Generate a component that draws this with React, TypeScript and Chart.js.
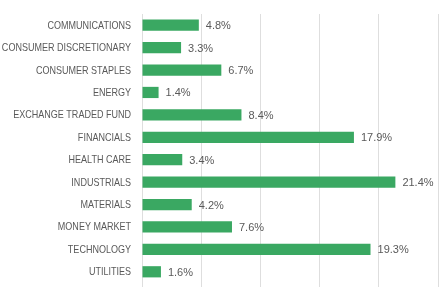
import React, { useEffect, useRef } from "react";
import { Chart, registerables } from "chart.js";

Chart.register(...registerables);

const sectors = [
  "COMMUNICATIONS",
  "CONSUMER DISCRETIONARY",
  "CONSUMER STAPLES",
  "ENERGY",
  "EXCHANGE TRADED FUND",
  "FINANCIALS",
  "HEALTH CARE",
  "INDUSTRIALS",
  "MATERIALS",
  "MONEY MARKET",
  "TECHNOLOGY",
  "UTILITIES",
];

const weights = [4.8, 3.3, 6.7, 1.4, 8.4, 17.9, 3.4, 21.4, 4.2, 7.6, 19.3, 1.6];

const textColor = "#595959";
const fontFamily = "'Liberation Sans', Arial, sans-serif";

// Category names drawn right-aligned next to the axis, in a narrow face
const sectorLabels = {
  id: "sectorLabels",
  afterDraw(chart: any) {
    const ctx = chart.ctx;
    const yScale = chart.scales.y;
    const right = chart.chartArea.left - 11;
    ctx.save();
    ctx.font = `11px ${fontFamily}`;
    ctx.fillStyle = textColor;
    ctx.textAlign = "right";
    ctx.textBaseline = "middle";
    sectors.forEach((name, i) => {
      const y = yScale.getPixelForTick(i);
      ctx.save();
      ctx.translate(right, y + 0.5);
      ctx.scale(0.82, 1);
      ctx.fillText(name, 0, 0);
      ctx.restore();
    });
    ctx.restore();
  },
};

// Draws the percentage to the right of each bar
const valueLabels = {
  id: "valueLabels",
  afterDatasetsDraw(chart: any) {
    const ctx = chart.ctx;
    const meta = chart.getDatasetMeta(0);
    ctx.save();
    ctx.font = `11px ${fontFamily}`;
    ctx.fillStyle = textColor;
    ctx.textAlign = "left";
    ctx.textBaseline = "middle";
    meta.data.forEach((bar: any, i: number) => {
      ctx.fillText(weights[i].toFixed(1) + "%", bar.x + 7, bar.y + 1);
    });
    ctx.restore();
  },
};

export default function App() {
  const canvasRef = useRef<HTMLCanvasElement>(null);

  useEffect(() => {
    if (!canvasRef.current) return;
    const chart = new Chart(canvasRef.current, {
      type: "bar",
      data: {
        labels: sectors,
        datasets: [
          {
            data: weights,
            backgroundColor: "#3aa862",
            barPercentage: 0.5,
            categoryPercentage: 1,
          },
        ],
      },
      options: {
        indexAxis: "y",
        animation: false,
        responsive: false,
        maintainAspectRatio: false,
        layout: { padding: { top: 14, bottom: 7, left: 0, right: 9 } },
        plugins: {
          legend: { display: false },
          tooltip: { enabled: false },
        },
        scales: {
          x: {
            min: 0,
            max: 25,
            ticks: { display: false, stepSize: 5 },
            grid: { color: "#dedede", drawTicks: true, tickLength: 4 },
            border: { display: false },
          },
          y: {
            grid: { display: false },
            border: { display: false },
            ticks: { display: false },
            afterFit(scale: any) {
              scale.width = 142;
            },
          },
        },
      },
      plugins: [valueLabels, sectorLabels],
    });
    return () => chart.destroy();
  }, []);

  return (
    <div style={{ position: "fixed", left: 0, top: 0, width: 447, height: 294, background: "#fff" }}>
      <canvas ref={canvasRef} width={447} height={294} />
    </div>
  );
}
